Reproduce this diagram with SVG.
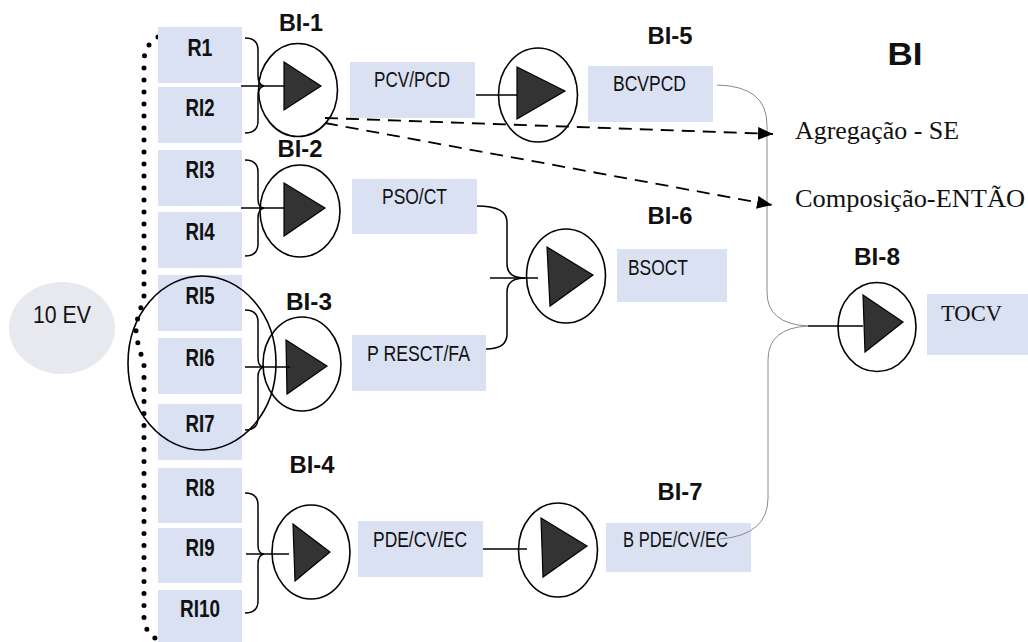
<svg xmlns="http://www.w3.org/2000/svg" width="1028" height="642" viewBox="0 0 1028 642">
<defs>
<marker id="ah" markerWidth="15" markerHeight="13" refX="15" refY="6.5" orient="auto" markerUnits="userSpaceOnUse"><path d="M0,0 L15,6.5 L0,13 Z" fill="#000"/></marker>
<style>
.box{fill:#d9e1f2}
.rl{font-family:"Liberation Sans",Arial,sans-serif;font-weight:bold;font-size:23px;fill:#111;text-anchor:middle}
.bl{font-family:"Liberation Sans",Arial,sans-serif;font-weight:bold;font-size:24px;fill:#111;text-anchor:middle}
.tl{font-family:"Liberation Sans",Arial,sans-serif;font-size:22px;fill:#111}
.sf{font-family:"Liberation Serif","Times New Roman",serif;fill:#111}
.circ{fill:none;stroke:#000;stroke-width:1.6}
.tri{fill:#333;stroke:#000;stroke-width:1.2}
.ln{fill:none;stroke:#000;stroke-width:1.5}
.gr{fill:none;stroke:#8a8a8a;stroke-width:1}
.dash{fill:none;stroke:#000;stroke-width:1.8;stroke-dasharray:13 8}
</style>
</defs>
<rect width="1028" height="642" fill="#fff"/>

<g id="ev">
<ellipse cx="62" cy="328" rx="53" ry="46" fill="#e7e9ee"/>
<text x="62" y="323" text-anchor="middle" font-family="Liberation Sans,Arial,sans-serif" font-size="24" fill="#111" textLength="58" lengthAdjust="spacingAndGlyphs">10 EV</text>
</g>

<g id="dots">
<path d="M158 37 Q144 45 144 62 L144 300 Q136 318 136 332 Q138 348 144 362 L144 618 Q145 632 155 638" fill="none" stroke="#000" stroke-width="5" stroke-linecap="round" stroke-dasharray="0 12"/>
</g>

<g id="inputs">
<g id="R1"><rect class="box" x="158" y="27" width="84" height="56"/><text class="rl" x="200" y="56" textLength="25" lengthAdjust="spacingAndGlyphs">R1</text></g>
<g id="RI2"><rect class="box" x="158" y="87" width="84" height="56"/><text class="rl" x="200" y="116" textLength="29" lengthAdjust="spacingAndGlyphs">RI2</text></g>
<g id="RI3"><rect class="box" x="158" y="150" width="84" height="56"/><text class="rl" x="200" y="178" textLength="29" lengthAdjust="spacingAndGlyphs">RI3</text></g>
<g id="RI4"><rect class="box" x="158" y="212" width="84" height="56"/><text class="rl" x="200" y="240" textLength="29" lengthAdjust="spacingAndGlyphs">RI4</text></g>
<g id="RI5"><rect class="box" x="158" y="275" width="84" height="56"/><text class="rl" x="200" y="304" textLength="29" lengthAdjust="spacingAndGlyphs">RI5</text></g>
<g id="RI6"><rect class="box" x="158" y="338" width="84" height="56"/><text class="rl" x="200" y="366" textLength="29" lengthAdjust="spacingAndGlyphs">RI6</text></g>
<g id="RI7"><rect class="box" x="158" y="404" width="84" height="56"/><text class="rl" x="200" y="432" textLength="29" lengthAdjust="spacingAndGlyphs">RI7</text></g>
<g id="RI8"><rect class="box" x="158" y="468" width="84" height="55"/><text class="rl" x="200" y="496" textLength="29" lengthAdjust="spacingAndGlyphs">RI8</text></g>
<g id="RI9"><rect class="box" x="158" y="528" width="84" height="55"/><text class="rl" x="200" y="556" textLength="29" lengthAdjust="spacingAndGlyphs">RI9</text></g>
<g id="RI10"><rect class="box" x="158" y="590" width="84" height="52"/><text class="rl" x="200" y="617" textLength="40" lengthAdjust="spacingAndGlyphs">RI10</text></g>
</g>

<g id="group-ring"><ellipse cx="202" cy="363" rx="74" ry="87" fill="none" stroke="#000" stroke-width="1.6"/></g>

<g id="BI-1">
<text class="bl" x="301" y="31" textLength="44" lengthAdjust="spacingAndGlyphs">BI-1</text>
<ellipse class="circ" cx="298" cy="90" rx="39.5" ry="46.5"/>
<polygon class="tri" points="284,62 321,86 284,110"/>
</g>
<g id="BI-2">
<text class="bl" x="300" y="157" textLength="45" lengthAdjust="spacingAndGlyphs">BI-2</text>
<ellipse class="circ" cx="300" cy="211" rx="40" ry="46"/>
<polygon class="tri" points="284,183 325,208 284,236"/>
</g>
<g id="BI-3">
<text class="bl" x="309" y="310" textLength="46" lengthAdjust="spacingAndGlyphs">BI-3</text>
<ellipse class="circ" cx="302" cy="364" rx="39" ry="47"/>
<polygon class="tri" points="286,340 327,366 287,394"/>
</g>
<g id="BI-4">
<text class="bl" x="312" y="473" textLength="45" lengthAdjust="spacingAndGlyphs">BI-4</text>
<ellipse class="circ" cx="311" cy="552" rx="39" ry="47"/>
<polygon class="tri" points="293,524 330,552 295,581"/>
</g>

<g id="PCV-PCD"><rect class="box" x="350" y="62" width="125" height="56"/><text class="tl" x="374" y="87" textLength="76" lengthAdjust="spacingAndGlyphs">PCV/PCD</text></g>
<g id="PSO-CT"><rect class="box" x="352" y="179" width="125" height="55"/><text class="tl" x="382" y="204" textLength="65" lengthAdjust="spacingAndGlyphs">PSO/CT</text></g>
<g id="P-RESCT-FA"><rect class="box" x="352" y="335" width="134" height="56"/><text class="tl" x="367" y="361" textLength="103" lengthAdjust="spacingAndGlyphs">P RESCT/FA</text></g>
<g id="PDE-CV-EC"><rect class="box" x="358" y="521" width="125" height="56"/><text class="tl" x="373" y="547" textLength="94" lengthAdjust="spacingAndGlyphs">PDE/CV/EC</text></g>

<g id="BI-5">
<text class="bl" x="670" y="44" textLength="45" lengthAdjust="spacingAndGlyphs">BI-5</text>
<ellipse class="circ" cx="538" cy="95" rx="39.5" ry="47"/>
<polygon class="tri" points="517,67 565,91 517,119"/>
</g>
<g id="BCVPCD"><rect class="box" x="588" y="66" width="125" height="56"/><text class="tl" x="613" y="91" textLength="73" lengthAdjust="spacingAndGlyphs">BCVPCD</text></g>

<g id="BI-6">
<text class="bl" x="670" y="224" textLength="45" lengthAdjust="spacingAndGlyphs">BI-6</text>
<ellipse class="circ" cx="566" cy="276" rx="39.5" ry="47"/>
<polygon class="tri" points="547,247 593,275 550,306"/>
</g>
<g id="BSOCT"><rect class="box" x="617" y="249" width="110" height="53"/><text class="tl" x="628" y="275" textLength="60" lengthAdjust="spacingAndGlyphs">BSOCT</text></g>

<g id="BI-7">
<text class="bl" x="680" y="500" textLength="45" lengthAdjust="spacingAndGlyphs">BI-7</text>
<ellipse class="circ" cx="558" cy="550" rx="39.5" ry="47"/>
<polygon class="tri" points="541,518 587,546 543,577"/>
</g>
<g id="B-PDE-CV-EC"><rect class="box" x="606" y="523" width="145" height="49"/><text class="tl" x="623" y="547" textLength="105" lengthAdjust="spacingAndGlyphs">B PDE/CV/EC</text></g>

<g id="BI-8">
<text class="bl" x="877" y="265" textLength="46" lengthAdjust="spacingAndGlyphs">BI-8</text>
<ellipse class="circ" cx="877" cy="327" rx="39" ry="44.5"/>
<polygon class="tri" points="863,295 903,322 865,352"/>
</g>
<g id="TOCV"><rect class="box" x="927" y="294" width="101" height="61"/><text class="sf" x="941" y="321" font-size="23" textLength="61" lengthAdjust="spacingAndGlyphs">TOCV</text></g>

<g id="title"><text x="905" y="65" text-anchor="middle" font-family="Liberation Sans,Arial,sans-serif" font-weight="bold" font-size="32" fill="#111" textLength="35" lengthAdjust="spacingAndGlyphs">BI</text></g>

<g id="legend">
<text class="sf" x="795" y="139" font-size="25" textLength="164" lengthAdjust="spacingAndGlyphs">Agregação - SE</text>
<text class="sf" x="795" y="207" font-size="25" textLength="230" lengthAdjust="spacingAndGlyphs">Composição-ENTÃO</text>
</g>

<g id="connectors">
<path class="ln" d="M245 38 Q258 38 258 50 L258 76 Q258 85 264 86 Q258 87 258 96 L258 121 Q258 133 245 133"/>
<line class="ln" x1="241" y1="86" x2="284" y2="86"/>
<path class="ln" d="M245 160 Q258 160 258 172 L258 199 Q258 208 264 208 Q258 209 258 218 L258 244 Q258 256 245 256"/>
<line class="ln" x1="241" y1="208" x2="284" y2="208"/>
<path class="ln" d="M245 310 Q258 310 258 322 L258 358 Q258 367 264 367 Q258 368 258 377 L258 418 Q258 430 245 430"/>
<line class="ln" x1="245" y1="367" x2="290" y2="367"/>
<path class="ln" d="M245 493 Q258 493 258 505 L258 545 Q258 554 264 554 Q258 555 258 564 L258 601 Q258 613 245 613"/>
<line class="ln" x1="246" y1="554" x2="289" y2="554"/>

<line class="ln" x1="476" y1="95" x2="517" y2="95"/>
<path class="ln" d="M477 206 Q507 206 507 222 L507 264 Q507 278 525 278"/>
<path class="ln" d="M486 349 Q507 349 507 334 L507 292 Q507 278 525 278"/>
<line class="ln" x1="490" y1="278" x2="538" y2="278"/>
<line class="ln" x1="483" y1="549" x2="527" y2="549"/>

<path class="gr" d="M717 85 Q767 86 767 125 L767 292 Q767 324 808 326"/>
<path class="gr" d="M720 539 Q768 535 768 498 L768 360 Q768 328 808 326"/>
<line class="ln" x1="808" y1="326" x2="863" y2="326"/>

<line class="dash" x1="325" y1="118" x2="773" y2="134" marker-end="url(#ah)"/>
<line class="dash" x1="325" y1="123" x2="772" y2="205" marker-end="url(#ah)"/>
</g>
</svg>
